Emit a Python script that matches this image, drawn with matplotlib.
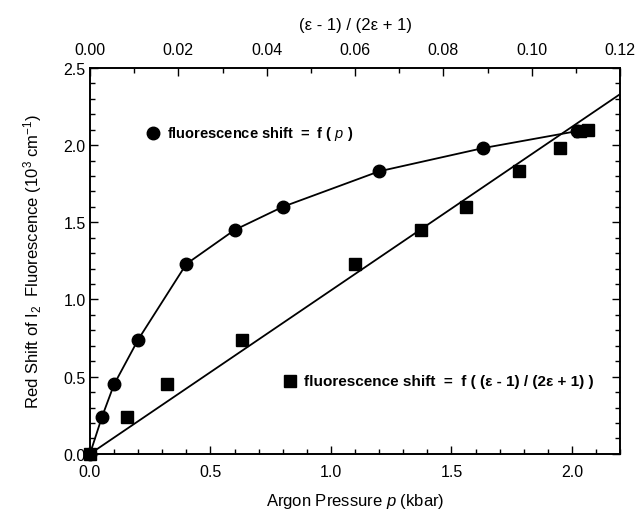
import numpy as np
import matplotlib.pyplot as plt
from matplotlib.ticker import MultipleLocator, FormatStrFormatter

plt.rcParams['font.family'] = ['Liberation Sans', 'DejaVu Sans']
plt.rcParams['mathtext.fontset'] = 'custom'
plt.rcParams['mathtext.rm'] = 'Liberation Sans'
plt.rcParams['mathtext.it'] = 'Liberation Sans:italic'
plt.rcParams['mathtext.bf'] = 'Liberation Sans:bold'

# fluorescence shift vs pressure (bottom axis, kbar)
pressure = [0.0, 0.05, 0.10, 0.20, 0.40, 0.60, 0.80, 1.20, 1.63, 2.02]
shift_p = [0.0, 0.24, 0.45, 0.74, 1.23, 1.45, 1.60, 1.83, 1.98, 2.09]

# fluorescence shift vs (eps-1)/(2eps+1) (top axis)
eps_func = [0.0, 0.0084, 0.0175, 0.0345, 0.0600, 0.0750, 0.0850, 0.0970, 0.1065, 0.1110, 0.1128]
shift_e = [0.0, 0.24, 0.45, 0.74, 1.23, 1.45, 1.60, 1.83, 1.98, 2.09, 2.10]

# linear fit for the top-axis series
fit_e = [0.0, 0.12]
fit_shift = [0.0, 2.33]

fig = plt.figure(figsize=(6.38, 5.10), dpi=100)
ax = fig.add_axes([0.141, 0.108, 0.831, 0.757])
ax.set_xlim(0, 2.2)
ax.set_ylim(0, 2.5)
ax.plot(pressure, shift_p, color='black', lw=1.3, marker='o', ms=9,
        clip_on=False, zorder=3)

top = ax.twiny()
top.set_xlim(0, 0.12)
top.plot(fit_e, fit_shift, color='black', lw=1.3, clip_on=True)
top.plot(eps_func, shift_e, 's', color='black', ms=8, clip_on=False, zorder=3)

ax.xaxis.set_major_locator(MultipleLocator(0.5))
ax.xaxis.set_minor_locator(MultipleLocator(0.1))
ax.yaxis.set_major_locator(MultipleLocator(0.5))
ax.yaxis.set_minor_locator(MultipleLocator(0.1))
ax.xaxis.set_major_formatter(FormatStrFormatter('%.1f'))
ax.yaxis.set_major_formatter(FormatStrFormatter('%.1f'))
top.xaxis.set_major_locator(MultipleLocator(0.02))
top.xaxis.set_minor_locator(MultipleLocator(0.01))
top.xaxis.set_major_formatter(FormatStrFormatter('%.2f'))

ax.tick_params(which='both', direction='in', labelsize=11.5, right=True, width=1)
ax.tick_params(which='major', length=6)
ax.tick_params(which='minor', length=3.5)
ax.tick_params(axis='x', which='major', pad=7)
ax.tick_params(axis='y', which='major', pad=3)
top.tick_params(which='both', direction='in', labelsize=11.5, width=1)
top.tick_params(which='major', length=6, pad=8)
top.tick_params(which='minor', length=3.5)
for a in (ax, top):
    for s in a.spines.values():
        s.set_linewidth(1.2)

ax.set_xlabel('Argon Pressure $\\it{p}$ (kbar)', fontsize=12, labelpad=9)
ax.set_ylabel('Red Shift of I$_2$  Fluorescence (10$^3$ cm$^{-1}$)', fontsize=12, labelpad=14)
top.set_xlabel('(\u03b5 - 1) / (2\u03b5 + 1)', fontsize=12, labelpad=9)

ax.plot([0.26], [2.08], 'o', color='black', ms=9)
ax.text(0.32, 2.08, 'fluorescence shift  =  f ( $\\mathbf{\\it{p}}$ )',
        fontsize=10.5, fontweight='bold', va='center')
ax.plot([0.83], [0.47], 's', color='black', ms=8)
ax.text(0.89, 0.47, 'fluorescence shift  =  f ( (\u03b5 - 1) / (2\u03b5 + 1) )',
        fontsize=11, fontweight='bold', va='center')

fig.savefig('out.png', dpi=100)
